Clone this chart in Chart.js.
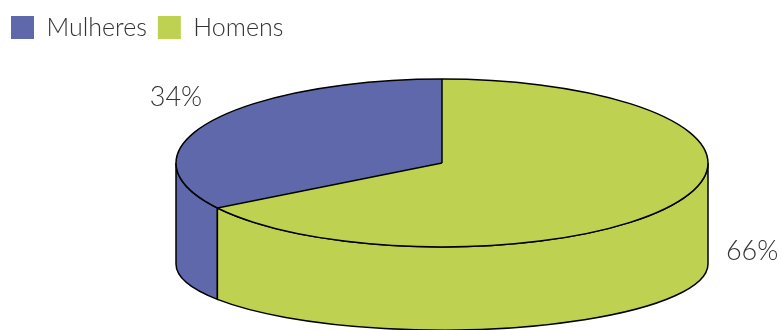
<!DOCTYPE html>
<html>
<head>
<meta charset="utf-8">
<script src="https://cdn.jsdelivr.net/npm/chart.js@4.4.0/dist/chart.umd.min.js"></script>
<style>
  html, body { margin: 0; padding: 0; background: #fff; }
  #wrap { width: 782px; height: 330px; }
</style>
</head>
<body>
<div id="wrap"><canvas id="pieChart"></canvas></div>
<script>
const categories = ['Mulheres', 'Homens'];
const shares = [34, 66];
const sliceColors = ['#5f68aa', '#bed150'];

// where the flattened pie sits on the page
const CX = 442, CY = 163, RX = 266, RY = 84, DEPTH = 101, RY_BOTTOM = 66;
const labelNudge = [[-33, -25], [77, 48]];
const fontFamily = '"Lato", "Open Sans", sans-serif';

const total = shares.reduce((a, b) => a + b, 0);

// part of [s,e] that faces the viewer (0..PI, any turn)
function frontPart(s, e) {
  for (let k = -2; k <= 2; k++) {
    const lo = Math.max(s, 2 * Math.PI * k), hi = Math.min(e, Math.PI + 2 * Math.PI * k);
    if (hi > lo) return [lo, hi];
  }
  return null;
}

const pie3d = {
  id: 'pie3d',
  beforeDatasetsDraw(chart) {
    const ctx = chart.ctx;
    const arcs = chart.getDatasetMeta(0).data;
    ctx.save();
    ctx.lineWidth = 1.5;
    ctx.strokeStyle = '#000';
    arcs.forEach((arc, i) => {
      const part = frontPart(arc.startAngle, arc.endAngle);
      if (!part) return;
      ctx.beginPath();
      ctx.ellipse(CX, CY, RX, RY, 0, part[0], part[1], false);
      ctx.ellipse(CX, CY + DEPTH, RX, RY_BOTTOM, 0, part[1], part[0], true);
      ctx.closePath();
      ctx.fillStyle = sliceColors[i];
      ctx.fill();
      ctx.stroke();
    });
    // squash the library's circle into the top ellipse
    const a0 = arcs[0];
    ctx.translate(CX, CY);
    ctx.scale(RX / a0.outerRadius, RY / a0.outerRadius);
    ctx.translate(-a0.x, -a0.y);
  },
  afterDatasetsDraw(chart) {
    const ctx = chart.ctx;
    ctx.restore();
    const arcs = chart.getDatasetMeta(0).data;
    ctx.save();
    ctx.lineWidth = 1.5;
    ctx.strokeStyle = '#000';
    ctx.beginPath();
    ctx.ellipse(CX, CY, RX, RY, 0, 0, 2 * Math.PI);
    ctx.stroke();
    arcs.forEach(arc => {
      ctx.beginPath();
      ctx.moveTo(CX, CY);
      ctx.lineTo(CX + RX * Math.cos(arc.startAngle), CY + RY * Math.sin(arc.startAngle));
      ctx.stroke();
    });
    // percentage labels
    ctx.fillStyle = '#333';
    ctx.font = '300 27px ' + fontFamily;
    ctx.textAlign = 'center';
    ctx.textBaseline = 'middle';
    arcs.forEach((arc, i) => {
      const mid = (arc.startAngle + arc.endAngle) / 2;
      const x = CX + RX * Math.cos(mid) + labelNudge[i][0];
      const y = CY + RY * Math.sin(mid) + labelNudge[i][1];
      ctx.fillText(Math.round(shares[i] / total * 100) + '%', x, y);
    });
    ctx.restore();
  }
};

new Chart(document.getElementById('pieChart'), {
  type: 'pie',
  data: {
    labels: categories,
    datasets: [{
      data: shares,
      backgroundColor: sliceColors,
      borderWidth: 0
    }]
  },
  options: {
    responsive: true,
    maintainAspectRatio: false,
    animation: false,
    events: [],
    rotation: -shares[0] / total * 360,
    layout: { padding: { top: 4 } },
    plugins: {
      legend: {
        position: 'top',
        align: 'start',
        labels: {
          boxWidth: 23,
          boxHeight: 23,
          padding: 11,
          color: '#333',
          font: { family: fontFamily, size: 25, weight: '300' }
        }
      },
      tooltip: { enabled: false }
    }
  },
  plugins: [pie3d]
});
</script>
</body>
</html>
